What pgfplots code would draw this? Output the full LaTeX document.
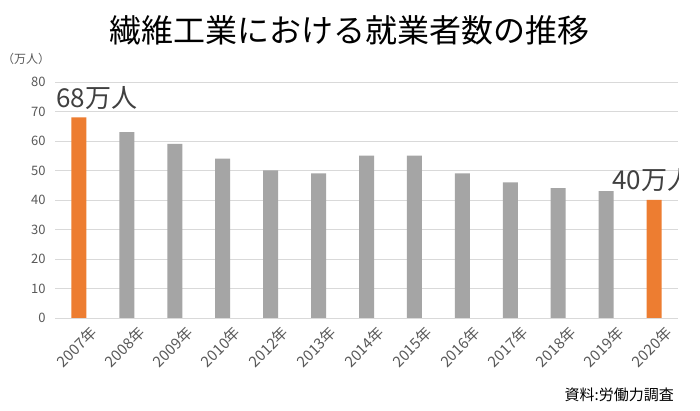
\documentclass[border=0pt]{standalone}
\usepackage{pgfplots}
\pgfplotsset{compat=1.18}
\usepackage{fontspec}
\setmainfont{Noto Sans CJK JP}
\definecolor{barorange}{HTML}{ED7D31}
\definecolor{bargray}{HTML}{A5A5A5}
\definecolor{gridgray}{HTML}{D9D9D9}
\definecolor{ticktext}{HTML}{595959}
\definecolor{labeltext}{HTML}{404040}
\begin{document}
\begin{tikzpicture}
\path[use as bounding box, fill=white] (0,0) rectangle (700pt,411pt);
\begin{axis}[
  at={(55pt,93pt)}, anchor=south west,
  scale only axis, width=623pt, height=236pt,
  xmin=-0.5, xmax=12.5, ymin=0, ymax=80,
  ytick={0,10,...,80},
  xtick={0,...,12},
  xticklabels={2007年,2008年,2009年,2010年,2012年,2013年,2014年,2015年,2016年,2017年,2018年,2019年,2020年},
  ymajorgrids, grid style={draw=gridgray, line width=0.8pt},
  axis lines*=left,
  x axis line style={draw=gridgray, line width=0.8pt},
  y axis line style={draw=none},
  major tick length=0pt,
  /pgf/number format/assume math mode=true,
  y tick label style={font=\fontsize{13}{15}\selectfont, text=ticktext, xshift=-6pt},
  x tick label style={font=\fontsize{15}{17}\selectfont, text=ticktext, rotate=45, anchor=north east, inner sep=1pt, yshift=-11pt, xshift=3pt},
]
\addplot[ybar, bar width=15pt, bar shift=0pt, fill=bargray, draw=none]
  coordinates {(1,63) (2,59) (3,54) (4,50) (5,49) (6,55) (7,55) (8,49) (9,46) (10,44) (11,43)};
\addplot[ybar, bar width=15pt, bar shift=0pt, fill=barorange, draw=none]
  coordinates {(0,68) (12,40)};
\node[anchor=base west, inner sep=0, xshift=-23pt, yshift=10pt, text=labeltext, font=\fontsize{26}{29}\selectfont] at (axis cs:0,68) {68万人};
\node[anchor=base west, inner sep=0, xshift=-42pt, yshift=10pt, text=labeltext, font=\fontsize{26}{29}\selectfont] at (axis cs:12,40) {40万人};
\end{axis}
\node[anchor=center, font=\fontsize{32}{36}\selectfont] at (349pt,381pt) {繊維工業における就業者数の推移};
\node[anchor=west, inner sep=0, text=ticktext, font=\fontsize{12}{14}\selectfont] at (2pt,352pt) {（万人）};
\node[anchor=east, inner sep=0, text=black, font=\fontsize{15}{17}\selectfont] at (674pt,16pt) {資料:労働力調査};
\end{tikzpicture}
\end{document}
